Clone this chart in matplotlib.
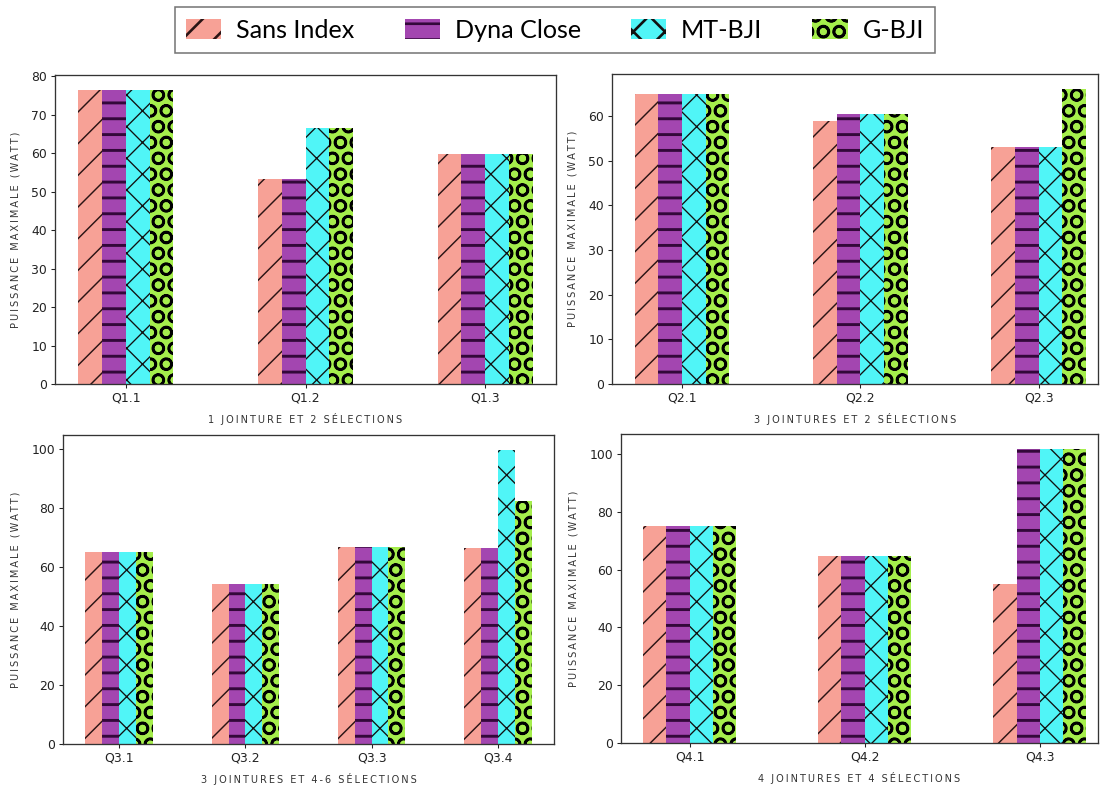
import numpy as np
import matplotlib
matplotlib.use("Agg")
import matplotlib.pyplot as plt
from matplotlib.patches import Patch
from matplotlib.ticker import MultipleLocator

# ── Figure geometry (pixels of the reference) ───────────────────────────────
DPI = 190
W, H = 1102, 787

# ── Series styling ──────────────────────────────────────────────────────────
SERIES = ["Sans Index", "Dyna Close", "MT-BJI", "G-BJI"]
COLORS = ["#f7a196", "#a346b0", "#50f5f7", "#a5ee4c"]
HATCHES = ["//", "--", "xx", "OO"]
HATCH_COLORS = ["#2a1414", "#33083a", "#111111", "#000000"]
HATCH_LW = [0.55, 1.1, 0.5, 0.95]

# ── Data ────────────────────────────────────────────────────────────────────
Q1_LABELS = ["Q1.1", "Q1.2", "Q1.3"]
Q1_SANS = [76.5, 53.4, 59.7]
Q1_DYNA = [76.5, 53.4, 59.7]
Q1_MT = [76.5, 66.6, 59.7]
Q1_G = [76.5, 66.6, 59.7]

Q2_LABELS = ["Q2.1", "Q2.2", "Q2.3"]
Q2_SANS = [64.9, 58.9, 53.1]
Q2_DYNA = [64.9, 60.4, 53.1]
Q2_MT = [64.9, 60.4, 53.1]
Q2_G = [64.9, 60.4, 66.1]

Q3_LABELS = ["Q3.1", "Q3.2", "Q3.3", "Q3.4"]
Q3_SANS = [65.1, 54.3, 66.9, 66.5]
Q3_DYNA = [65.1, 54.3, 66.9, 66.5]
Q3_MT = [65.1, 54.3, 66.9, 99.8]
Q3_G = [65.1, 54.3, 66.9, 82.3]

Q4_LABELS = ["Q4.1", "Q4.2", "Q4.3"]
Q4_SANS = [75.1, 64.6, 54.9]
Q4_DYNA = [75.1, 64.6, 101.9]
Q4_MT = [75.1, 64.6, 101.9]
Q4_G = [75.1, 64.6, 101.9]

XLABELS = ["1 JOINTURE ET 2 SÉLECTIONS", "3 JOINTURES ET 2 SÉLECTIONS",
           "3 JOINTURES ET 4-6 SÉLECTIONS", "4 JOINTURES ET 4 SÉLECTIONS"]
YLABEL = "PUISSANCE MAXIMALE (WATT)"
YSTEPS = [10, 10, 20, 20]

# axes boxes in pixels: left, right, top, bottom
BOXES = [(55, 556, 75, 384), (612, 1098, 74, 384),
         (63, 554, 435, 744), (621, 1098, 434, 743)]
BAR_W = 0.133


def spaced(text):
    # wide letter tracking like the reference labels
    return "\u2009".join(text)


def draw_panel(ax, labels, series, xlabel, ystep, clip_right):
    x = np.arange(len(labels))
    for j, vals in enumerate(series):
        with plt.rc_context({"hatch.linewidth": HATCH_LW[j]}):
            bars = ax.bar(x + (j - 1.5) * BAR_W, vals, BAR_W, color=COLORS[j],
                          hatch=HATCHES[j], edgecolor=HATCH_COLORS[j],
                          linewidth=0)
        for b in bars:
            if hasattr(b, "set_hatch_linewidth"):
                b.set_hatch_linewidth(HATCH_LW[j])
    ax.set_xticks(x)
    ax.set_xticklabels(labels)
    ax.yaxis.set_major_locator(MultipleLocator(ystep))
    if clip_right:
        lo, hi = ax.get_xlim()
        ax.set_xlim(lo, hi - 0.06)
    ax.set_xlabel(spaced(xlabel), fontsize=3.7, color="#333333", labelpad=3)
    ax.set_ylabel(spaced(YLABEL), fontsize=3.7, color="#333333", labelpad=4)
    ax.tick_params(labelsize=4.7, length=1.4, width=0.4, pad=1.6,
                   colors="#222222")
    for s in ax.spines.values():
        s.set_linewidth(0.5)
        s.set_color("#333333")


fig = plt.figure(figsize=(W / DPI, H / DPI), dpi=DPI)

panels = [
    (Q1_LABELS, [Q1_SANS, Q1_DYNA, Q1_MT, Q1_G]),
    (Q2_LABELS, [Q2_SANS, Q2_DYNA, Q2_MT, Q2_G]),
    (Q3_LABELS, [Q3_SANS, Q3_DYNA, Q3_MT, Q3_G]),
    (Q4_LABELS, [Q4_SANS, Q4_DYNA, Q4_MT, Q4_G]),
]

for i, ((labels, series), box) in enumerate(zip(panels, BOXES)):
    l, r, t, b = box
    ax = fig.add_axes([l / W, (H - b) / H, (r - l) / W, (b - t) / H])
    draw_panel(ax, labels, series, XLABELS[i], YSTEPS[i], clip_right=(i % 2 == 1))

# ── Legend ──────────────────────────────────────────────────────────────────
handles = []
for j in range(4):
    with plt.rc_context({"hatch.linewidth": HATCH_LW[j]}):
        p = Patch(facecolor=COLORS[j], hatch=HATCHES[j],
                  edgecolor=HATCH_COLORS[j], linewidth=0)
    handles.append(p)

leg = fig.legend(handles, SERIES, loc="center", bbox_to_anchor=(555 / W, 1 - 30 / H),
                 ncol=4, frameon=True, fancybox=False,
                 prop={"family": "Lato", "size": 9.5},
                 handlelength=1.4, handleheight=0.85, handletextpad=0.6,
                 columnspacing=2.0, borderpad=0.45, borderaxespad=0)
leg.get_frame().set_edgecolor("#555555")
leg.get_frame().set_linewidth(0.6)

fig.savefig("out.png", dpi=DPI)
